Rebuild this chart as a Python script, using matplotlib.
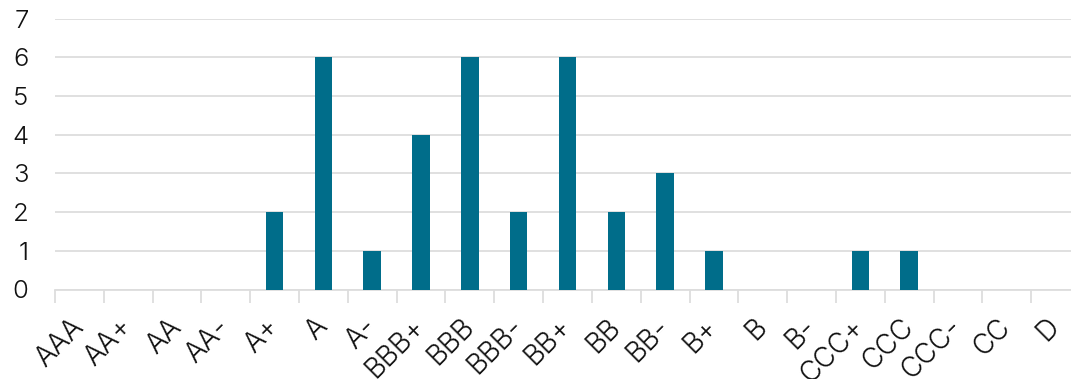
import matplotlib.pyplot as plt
import numpy as np

ratings = ['AAA', 'AA+', 'AA', 'AA-', 'A+', 'A', 'A-', 'BBB+', 'BBB', 'BBB-',
           'BB+', 'BB', 'BB-', 'B+', 'B', 'B-', 'CCC+', 'CCC', 'CCC-', 'CC', 'D']
counts = [0, 0, 0, 0, 2, 6, 1, 4, 6, 2, 6, 2, 3, 1, 0, 0, 1, 1, 0, 0, 0]
y_ticks = list(range(0, 8))

bar_color = '#006D8A'
grid_color = '#DDDDDD'
text_color = '#111111'

plt.rcParams['font.family'] = ['Inter', 'DejaVu Sans']

fig = plt.figure(figsize=(10.71, 3.79), dpi=100)
# plot area runs a little past the right edge of the image, as in the reference
ax = fig.add_axes([55 / 1071, 1 - 289.5 / 379, 1025 / 1071, 271 / 379])

x = np.arange(len(ratings))
ax.bar(x, counts, width=0.36, color=bar_color, zorder=3)

ax.set_xlim(-0.5, len(ratings) - 0.5)
ax.set_ylim(0, 7)
ax.set_yticks(y_ticks)
ax.set_yticklabels([str(v) for v in y_ticks], fontsize=18.5, fontweight=300,
                   color=text_color)
ax.yaxis.grid(True, color=grid_color, linewidth=1.3, zorder=0)
ax.tick_params(axis='y', length=0, pad=19)

# category labels at centres, tick marks at boundaries
ax.set_xticks(x)
ax.set_xticklabels(ratings, rotation=45, ha='right', va='center',
                   rotation_mode='anchor', fontsize=20, fontweight=300,
                   color=text_color)
ax.tick_params(axis='x', which='major', length=0, pad=24)
ax.set_xticks(np.arange(-0.5, len(ratings)), minor=True)
ax.tick_params(axis='x', which='minor', length=9, width=1.3, color=grid_color)

for s in ['top', 'right', 'left']:
    ax.spines[s].set_visible(False)
ax.spines['bottom'].set_color(grid_color)
ax.spines['bottom'].set_linewidth(1.3)

fig.savefig('out.png', dpi=100)
